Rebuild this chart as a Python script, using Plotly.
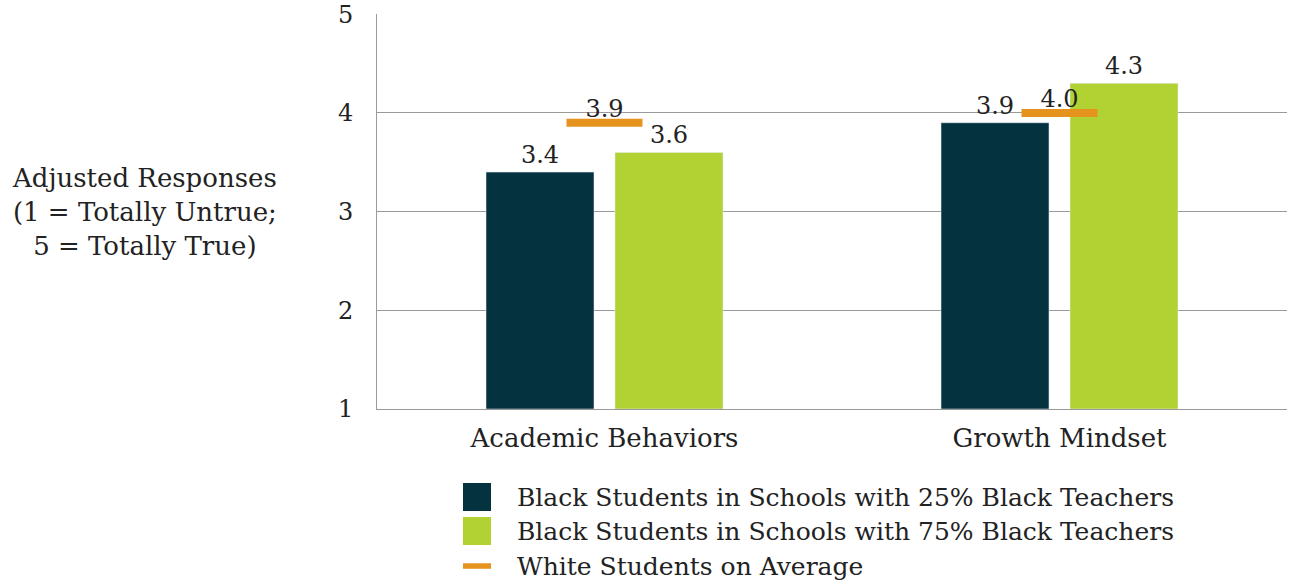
import plotly.graph_objects as go

categories = ["Academic Behaviors", "Growth Mindset"]
series_names = [
    "Black Students in Schools with 25% Black Teachers",
    "Black Students in Schools with 75% Black Teachers",
    "White Students on Average",
]
black_25 = [3.4, 3.9]
black_75 = [3.6, 4.3]
white_avg = [3.9, 4.0]
y_ticks = [1, 2, 3, 4, 5]

DARK = "#05323F"
GREEN = "#B1D232"
ORANGE = "#E6931E"
FONT = "DejaVu Serif"
FS = 24

xpos = list(range(len(categories)))
fig = go.Figure()
fig.add_trace(go.Bar(x=xpos, y=[v - 1 for v in black_25], base=1, name=series_names[0],
                     marker=dict(color=DARK), text=[f"{v:.1f}" for v in black_25],
                     textposition="outside", textfont=dict(size=FS, color="#222"),
                     cliponaxis=False, showlegend=False))
fig.add_trace(go.Bar(x=xpos, y=[v - 1 for v in black_75], base=1, name=series_names[1],
                     marker=dict(color=GREEN), text=[f"{v:.1f}" for v in black_75],
                     textposition="outside", textfont=dict(size=FS, color="#222"),
                     cliponaxis=False, showlegend=False))
half = 0.0835
for i, v in enumerate(white_avg):
    fig.add_trace(go.Scatter(x=[i - half, i + half], y=[v, v], mode="lines",
                             line=dict(color=ORANGE, width=8), showlegend=False,
                             hoverinfo="skip"))
fig.add_trace(go.Scatter(x=xpos, y=white_avg, mode="text",
                         text=[f"{v:.1f}" for v in white_avg], textposition="top center",
                         textfont=dict(size=FS, color="#222"), showlegend=False,
                         cliponaxis=False))

fig.update_layout(
    width=1289, height=585,
    margin=dict(l=377, r=2, t=14, b=176),
    paper_bgcolor="white", plot_bgcolor="white",
    font=dict(family=FONT, size=FS, color="#222"),
    barmode="group", bargap=0.433, bargroupgap=0.163,
    xaxis=dict(range=[-0.5, 1.5], tickvals=xpos, ticktext=categories,
               showgrid=False, zeroline=False, showline=True, linecolor="#9a9a9a",
               linewidth=1, ticks="", ticklabelstandoff=6, tickfont=dict(size=26)),
    yaxis=dict(range=[1, 5.002], tickvals=y_ticks, showgrid=True, gridcolor="#9a9a9a",
               gridwidth=1, zeroline=False, showline=True, linecolor="#9a9a9a",
               linewidth=1, ticks="", ticklabelstandoff=18),
    showlegend=False,
)

fig.add_annotation(xref="paper", yref="paper", x=-0.255, y=0.5, xanchor="center",
                   yanchor="middle", showarrow=False, align="center",
                   text="Adjusted Responses<br>(1 = Totally Untrue;<br>5 = Totally True)",
                   font=dict(size=26))

# manual legend
legend_rows = [(-0.2228, DARK, "box"), (-0.3089, GREEN, "box"), (-0.3975, ORANGE, "line")]
for (yc, color, kind), name in zip(legend_rows, series_names):
    if kind == "box":
        fig.add_shape(type="rect", xref="paper", yref="paper", x0=0.0945, x1=0.1253,
                      y0=yc - 0.0355, y1=yc + 0.0355, fillcolor=color, line=dict(width=0))
    else:
        fig.add_shape(type="rect", xref="paper", yref="paper", x0=0.0945, x1=0.1253,
                      y0=yc - 0.007, y1=yc + 0.007, fillcolor=color, line=dict(width=0))
    fig.add_annotation(xref="paper", yref="paper", x=0.1516, y=yc, xanchor="left",
                       yanchor="middle", showarrow=False, text=name, font=dict(size=25))

fig.write_html("out.html")
